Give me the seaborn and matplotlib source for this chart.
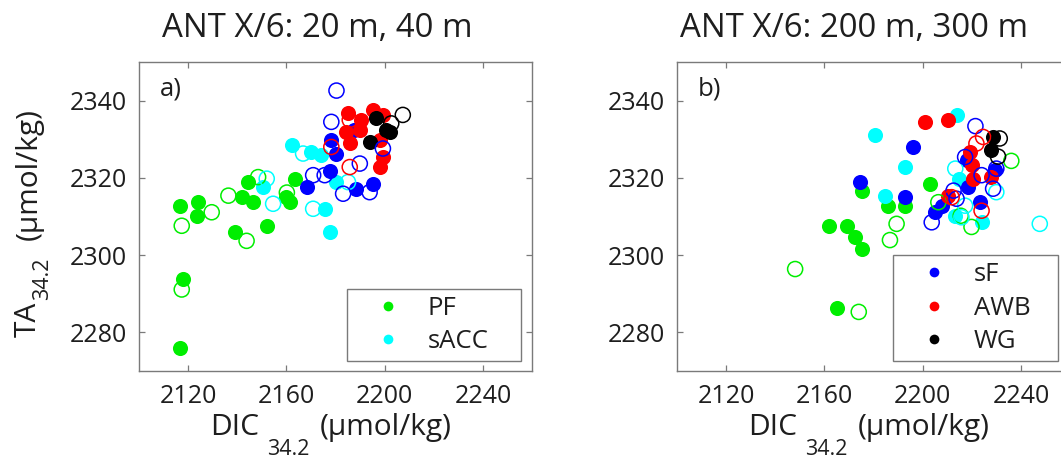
import matplotlib
matplotlib.use("Agg")
import matplotlib.pyplot as plt
from matplotlib.lines import Line2D
import pandas as pd
import seaborn as sns

# ---------------- data: (DIC_34.2, TA_34.2) in µmol/kg ----------------
# Panel a: ANT X/6, 20 m (filled) and 40 m (open)
a_pf_filled = [(2144.5, 2319.0), (2163.5, 2319.8), (2141.8, 2315.0), (2146.5, 2313.7),
               (2116.8, 2312.8), (2124.2, 2313.7), (2123.6, 2310.2), (2160.0, 2315.0),
               (2161.4, 2313.7), (2139.1, 2305.9), (2152.0, 2307.6), (2118.0, 2293.7),
               (2116.8, 2276.0)]
a_pf_open = [(2148.5, 2320.2), (2136.4, 2315.4), (2129.6, 2311.1), (2117.4, 2307.6),
             (2143.8, 2303.7), (2117.4, 2291.1), (2160.2, 2316.2)]
a_sacc_filled = [(2162.1, 2328.5), (2170.2, 2326.8), (2174.3, 2325.9), (2150.6, 2317.6),
                 (2175.6, 2312.0), (2177.7, 2305.9), (2180.4, 2318.9)]
a_sacc_open = [(2166.8, 2326.3), (2152.0, 2319.8), (2154.6, 2313.3), (2170.9, 2312.0),
               (2185.1, 2318.9)]
a_sf_filled = [(2187.7, 2332.4), (2178.3, 2329.8), (2180.4, 2326.3), (2177.7, 2321.8),
               (2168.2, 2317.6), (2188.4, 2317.2), (2195.3, 2318.5)]
a_sf_open = [(2180.4, 2342.6), (2178.3, 2334.5), (2199.3, 2327.6), (2189.9, 2323.7),
             (2170.9, 2320.7), (2175.6, 2320.7), (2183.1, 2315.9), (2193.9, 2316.3)]
a_awb_filled = [(2185.1, 2336.7), (2195.3, 2337.6), (2199.3, 2336.3), (2190.5, 2335.0),
                (2184.4, 2331.9), (2185.8, 2328.9), (2198.0, 2329.8), (2199.3, 2325.4),
                (2198.0, 2322.8), (2189.9, 2332.4)]
a_awb_open = [(2178.3, 2328.0), (2185.8, 2322.8), (2185.8, 2335.0)]
a_wg_filled = [(2196.6, 2335.4), (2200.6, 2332.4), (2193.9, 2329.3), (2202.0, 2331.8)]
a_wg_open = [(2207.4, 2336.3), (2202.7, 2334.1)]

# Panel b: ANT X/6, 200 m (filled) and 300 m (open)
b_pf_filled = [(2203.0, 2318.5), (2175.2, 2316.7), (2186.1, 2312.8), (2192.8, 2312.8),
               (2161.7, 2307.6), (2169.1, 2307.6), (2172.5, 2304.6), (2175.2, 2301.6),
               (2165.1, 2286.4)]
b_pf_open = [(2189.4, 2308.1), (2186.7, 2303.9), (2236.1, 2324.4), (2219.9, 2307.3),
             (2206.4, 2313.7), (2148.1, 2296.4), (2174.0, 2285.3), (2215.5, 2310.2)]
b_sacc_filled = [(2213.8, 2336.3), (2180.6, 2331.1), (2192.8, 2322.8), (2184.7, 2315.4),
                 (2215.0, 2319.8), (2213.3, 2310.2), (2224.0, 2308.5)]
b_sacc_open = [(2213.3, 2322.4), (2230.0, 2316.3), (2217.3, 2312.8), (2247.7, 2308.1),
               (2215.8, 2309.8)]
b_sf_filled = [(2196.2, 2328.0), (2174.5, 2318.9), (2192.8, 2315.0), (2218.0, 2324.6),
               (2229.4, 2322.0), (2218.6, 2317.6), (2223.4, 2313.7), (2205.1, 2311.1),
               (2207.7, 2312.8)]
b_sf_open = [(2221.5, 2333.4), (2217.3, 2325.4), (2230.0, 2322.4), (2228.7, 2317.2),
             (2212.6, 2316.7), (2213.8, 2314.6), (2203.7, 2308.5), (2224.0, 2320.7)]
b_awb_filled = [(2201.0, 2334.5), (2210.5, 2335.0), (2219.2, 2326.7), (2219.9, 2323.3),
                (2220.6, 2319.8), (2228.0, 2320.2), (2210.5, 2315.4)]
b_awb_open = [(2224.6, 2330.6), (2221.9, 2328.9), (2224.0, 2311.5), (2211.8, 2315.0)]
b_wg_filled = [(2228.7, 2330.6), (2228.0, 2327.2)]
b_wg_open = [(2231.4, 2330.2), (2230.7, 2325.5)]

regions = ["PF", "sACC", "sF", "AWB", "WG"]
region_colors = {"PF": "#00ee00", "sACC": "#00ffff", "sF": "#0000ff",
                 "AWB": "#ff0000", "WG": "#000000"}
x_ticks = [2120, 2160, 2200, 2240]
y_ticks = [2280, 2300, 2320, 2340]
titles = ["ANT X/6: 20 m, 40 m", "ANT X/6: 200 m, 300 m"]
panel_tags = ["a)", "b)"]
legend_groups = [["PF", "sACC"], ["sF", "AWB", "WG"]]

series = {
    ("a", "PF", True): a_pf_filled, ("a", "PF", False): a_pf_open,
    ("a", "sACC", True): a_sacc_filled, ("a", "sACC", False): a_sacc_open,
    ("a", "sF", True): a_sf_filled, ("a", "sF", False): a_sf_open,
    ("a", "AWB", True): a_awb_filled, ("a", "AWB", False): a_awb_open,
    ("a", "WG", True): a_wg_filled, ("a", "WG", False): a_wg_open,
    ("b", "PF", True): b_pf_filled, ("b", "PF", False): b_pf_open,
    ("b", "sACC", True): b_sacc_filled, ("b", "sACC", False): b_sacc_open,
    ("b", "sF", True): b_sf_filled, ("b", "sF", False): b_sf_open,
    ("b", "AWB", True): b_awb_filled, ("b", "AWB", False): b_awb_open,
    ("b", "WG", True): b_wg_filled, ("b", "WG", False): b_wg_open,
}
rows = []
for (panel, region, filled), pts in series.items():
    for dic, ta in pts:
        rows.append({"panel": panel, "region": region, "filled": filled,
                     "DIC": dic, "TA": ta})
df = pd.DataFrame(rows)

# ---------------- style ----------------
sns.set_style("white")
plt.rcParams["font.family"] = ["Open Sans", "DejaVu Sans"]
TEXT = "#1e1e1e"
FRAME = "#7a7a7a"
TICK_FS = 18
LABEL_FS = 21.5
SUB_FS = 15.5
TITLE_FS = 23.8
LEG_FS = 18.5

W, H = 1061, 458
fig = plt.figure(figsize=(W / 100, H / 100), dpi=100)
ax_a = fig.add_axes([139 / W, 87 / H, 393 / W, 309 / H])
ax_b = fig.add_axes([677 / W, 87 / H, 393 / W, 309 / H])
axes = [ax_a, ax_b]

MSIZE = 118
for ax, panel in zip(axes, ["a", "b"]):
    sub = df[df["panel"] == panel]
    # filled markers first, open circles drawn over them
    for filled in (True, False):
        for region in regions:
            d = sub[(sub["region"] == region) & (sub["filled"] == filled)]
            if d.empty:
                continue
            c = region_colors[region]
            if filled:
                sns.scatterplot(data=d, x="DIC", y="TA", ax=ax, color=c, s=MSIZE,
                                linewidth=0, edgecolor=c, legend=False, zorder=3)
            else:
                sns.scatterplot(data=d, x="DIC", y="TA", ax=ax, color=c, s=MSIZE,
                                facecolor="none", edgecolor=c, linewidth=1.1,
                                legend=False, zorder=4)

for i, ax in enumerate(axes):
    ax.set_xlim(2100, 2260)
    ax.set_ylim(2270, 2350)
    ax.set_xticks(x_ticks)
    ax.set_yticks(y_ticks)
    ax.set_xlabel("")
    ax.set_ylabel("")
    ax.tick_params(axis="both", which="both", direction="in", length=4.5, width=0.9,
                   color=FRAME, labelsize=TICK_FS, labelcolor=TEXT,
                   top=True, right=True, bottom=True, left=True)
    ax.tick_params(axis="x", pad=9.5)
    ax.tick_params(axis="y", pad=8.5)
    for sp in ax.spines.values():
        sp.set_visible(True)
        sp.set_color(FRAME)
        sp.set_linewidth(1.0)
    ax.text(0.053, 0.952, panel_tags[i], transform=ax.transAxes, ha="left", va="top",
            fontsize=LEG_FS, color=TEXT)

    handles = [Line2D([], [], marker="o", linestyle="none", markersize=7,
                      markerfacecolor=region_colors[r], markeredgewidth=0)
               for r in legend_groups[i]]
    x0 = 0.529 if i == 0 else 0.5496
    wd = 0.4427 if i == 0 else 0.42
    leg = ax.legend(handles, legend_groups[i], loc="lower left",
                    bbox_to_anchor=(x0, 10 / 309, wd, 0.2), mode="expand",
                    borderaxespad=0, borderpad=0.27, handlelength=2.65,
                    handletextpad=0.23, labelspacing=0.33, fontsize=LEG_FS,
                    frameon=True, fancybox=False, framealpha=1, edgecolor=FRAME)
    leg.get_frame().set_linewidth(1.0)
    for t in leg.get_texts():
        t.set_color(TEXT)

# titles
fig.text(317.5 / W, (H - 37) / H, titles[0], ha="center", va="baseline",
         fontsize=TITLE_FS, color=TEXT)
fig.text(854 / W, (H - 37) / H, titles[1], ha="center", va="baseline",
         fontsize=TITLE_FS, color=TEXT)

# x labels: DIC with a dropped subscript
for x0 in (210, 748):
    main = fig.text(x0 / W, (H - 435) / H, "DIC", ha="left", va="baseline",
                    fontsize=LABEL_FS, color=TEXT)
    s = ax_a.annotate("34.2", xy=(1, H - 455), xycoords=(main, "figure pixels"),
                      xytext=(8, 0), textcoords="offset pixels", ha="left",
                      va="baseline", fontsize=SUB_FS, color=TEXT)
    ax_a.annotate("(µmol/kg)", xy=(1, H - 435), xycoords=(s, "figure pixels"),
                  xytext=(10, 0), textcoords="offset pixels", ha="left",
                  va="baseline", fontsize=LABEL_FS, color=TEXT)

# y label: TA with subscript, rotated
ta = fig.text(36 / W, (H - 337) / H, "TA", rotation=90, rotation_mode="anchor",
              ha="left", va="baseline", fontsize=LABEL_FS, color=TEXT)
ts = ax_a.annotate("34.2", xy=(48, 1), xycoords=("figure pixels", ta),
                   xytext=(0, 2), textcoords="offset pixels", rotation=90,
                   rotation_mode="anchor", ha="left", va="baseline",
                   fontsize=SUB_FS, color=TEXT)
ax_a.annotate("(µmol/kg)", xy=(37, 1), xycoords=("figure pixels", ts),
              xytext=(0, 17), textcoords="offset pixels", rotation=90,
              rotation_mode="anchor", ha="left", va="baseline",
              fontsize=LABEL_FS, color=TEXT)

fig.savefig("out.png", dpi=100)
